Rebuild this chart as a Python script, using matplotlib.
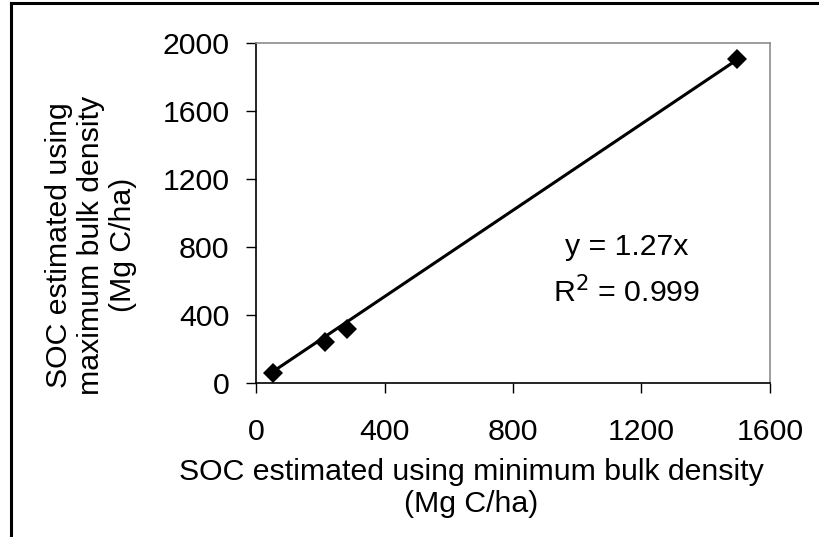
import matplotlib
matplotlib.use("Agg")
import matplotlib.pyplot as plt
import numpy as np
from matplotlib.lines import Line2D

plt.rcParams['font.family'] = ['Liberation Sans', 'DejaVu Sans']

soc_min = [53, 215, 283, 1498]
soc_max = [59, 241, 318, 1906]
slope = 1.27
r2_text = "0.999"
xticks = [0, 400, 800, 1200, 1600]
yticks = [0, 400, 800, 1200, 1600, 2000]

W, H = 820, 537
fig = plt.figure(figsize=(W/100, H/100), dpi=100)
fig.patch.set_facecolor('white')

def fx(px):
    return px / W

def fy(py):
    return 1 - py / H

ax = fig.add_axes([fx(256), fy(383), fx(770) - fx(256), fy(43) - fy(383)])
ax.set_xlim(0, 1600)
ax.set_ylim(0, 2000)

xs = np.array([min(soc_min), max(soc_min)])
ax.plot(xs, slope * xs, color='black', lw=2.2, solid_capstyle='butt', zorder=2)
ax.plot(soc_min, soc_max, linestyle='none', marker='D', ms=10, color='black',
        markeredgewidth=0, zorder=3)

ax.set_xticks(xticks)
ax.set_yticks(yticks)
ax.tick_params(direction='out', length=7, width=1, labelsize=21.8, color='black')
ax.tick_params(axis='x', pad=18)
ax.tick_params(axis='y', pad=12)
for s in ['left', 'bottom']:
    ax.spines[s].set_color('black')
    ax.spines[s].set_linewidth(1.2)
for s in ['top', 'right']:
    ax.spines[s].set_color('#8c8c8c')
    ax.spines[s].set_linewidth(1.2)

ax.text(fx(627), fy(247), "y = 1.27x", transform=fig.transFigure,
        ha='center', va='center', fontsize=21.8)
ax.text(fx(627), fy(292), "R$^2$ = " + r2_text, transform=fig.transFigure,
        ha='center', va='center', fontsize=21.8)

fig.text(fx(471), fy(488), "SOC estimated using minimum bulk density\n(Mg C/ha)",
         ha='center', va='center', fontsize=21.8, linespacing=1.2)
fig.text(fx(91), fy(245), "SOC estimated using\nmaximum bulk density\n(Mg C/ha)",
         ha='center', va='center', fontsize=21.8, rotation=90, linespacing=1.2)

# outer frame (top and left edges visible)
fig.add_artist(Line2D([fx(11), fx(11)], [0, fy(3)], transform=fig.transFigure,
                      color='black', lw=2.2))
fig.add_artist(Line2D([fx(11), 1.01], [fy(3), fy(3)], transform=fig.transFigure,
                      color='black', lw=2.2))

fig.savefig("out.png", dpi=100)
